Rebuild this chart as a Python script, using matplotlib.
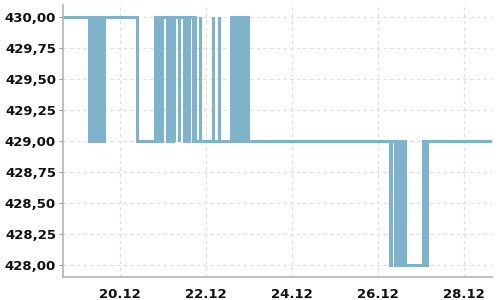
import matplotlib
matplotlib.use("Agg")
import matplotlib.pyplot as plt
from matplotlib.ticker import FixedLocator, FuncFormatter

# day of December (fractional) where the price changes, and the new price
times = [18.68,
         19.28, 19.33, 19.38, 19.43, 19.48, 19.53, 19.58, 19.63,
         20.39,
         20.81, 20.85, 20.89, 20.94, 20.98,
         21.09, 21.135, 21.18, 21.225, 21.25, 21.27,
         21.365, 21.375,
         21.48, 21.52, 21.56, 21.60,
         21.69, 21.715, 21.74,
         21.855, 21.865,
         22.165, 22.175,
         22.305, 22.315,
         22.58, 22.62, 22.66, 22.70, 22.74, 22.78, 22.82, 22.86, 22.90, 22.97,
         26.295, 26.305,
         26.405, 26.415,
         26.50, 26.54, 26.58, 26.61, 26.64,
         27.06, 27.10, 27.14,
         28.66]
prices = [430,
          429, 430, 429, 430, 429, 430, 429, 430,
          429,
          430, 429, 430, 429, 430,
          429, 430, 429, 430, 429, 430,
          429, 430,
          429, 430, 429, 430,
          429, 430, 429,
          430, 429,
          430, 429,
          430, 429,
          430, 429, 430, 429, 430, 429, 430, 429, 430, 429,
          428, 429,
          428, 429,
          428, 429, 428, 429, 428,
          429, 428, 429,
          429]

x_ticks = [20, 22, 24, 26, 28]
y_ticks = [428.0, 428.25, 428.5, 428.75, 429.0, 429.25, 429.5, 429.75, 430.0]

fig = plt.figure(figsize=(5, 3), dpi=100)
ax = fig.add_axes([0.126, 0.077, 0.858, 0.906])

ax.plot(times, prices, drawstyle='steps-post', color='#7eb3cb', linewidth=2.2,
        solid_joinstyle='miter')

ax.set_xlim(18.675, 28.66)
ax.set_ylim(427.903, 430.097)

ax.xaxis.set_major_locator(FixedLocator(x_ticks))
ax.xaxis.set_major_formatter(FuncFormatter(lambda v, p: '%d.12' % round(v)))
ax.yaxis.set_major_locator(FixedLocator(y_ticks))
ax.yaxis.set_major_formatter(FuncFormatter(lambda v, p: ('%.2f' % v).replace('.', ',')))

ax.grid(True, color='#dddddd', linestyle=(0, (3, 3)), linewidth=0.8)
ax.set_axisbelow(True)

for s in ['top', 'right']:
    ax.spines[s].set_visible(False)
for s in ['left', 'bottom']:
    ax.spines[s].set_color('#b4b4b4')
    ax.spines[s].set_linewidth(1.2)

ax.tick_params(axis='y', length=3, color='#999999', pad=2, labelsize=9.5)
ax.tick_params(axis='x', length=0, pad=8, labelsize=9.5)
for lab in ax.get_xticklabels() + ax.get_yticklabels():
    lab.set_fontweight('bold')
    lab.set_color('#111111')

fig.savefig('out.png', dpi=100)
